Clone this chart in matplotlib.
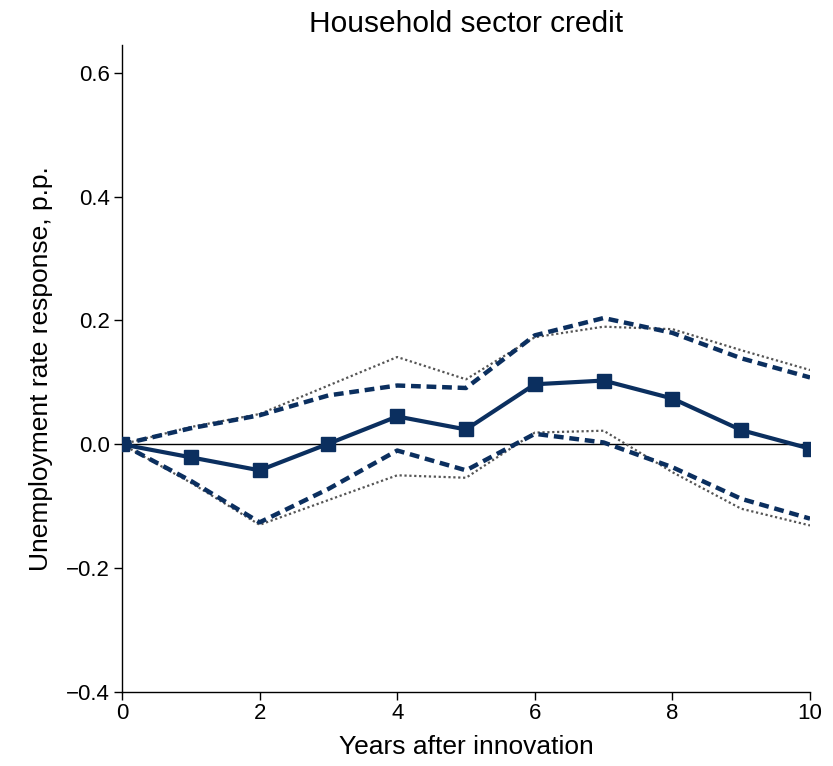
import numpy as np
import matplotlib
matplotlib.use("Agg")
import matplotlib.pyplot as plt

plt.rcParams['font.family'] = ['Liberation Sans', 'DejaVu Sans']

# --- DATA ---
years = np.arange(0, 11)
irf = [0.0, -0.021, -0.042, 0.001, 0.045, 0.024, 0.097, 0.103, 0.074, 0.023, -0.007]
band_hi = [0.0, 0.026, 0.047, 0.079, 0.095, 0.091, 0.176, 0.204, 0.180, 0.139, 0.108]
band_lo = [0.0, -0.059, -0.126, -0.072, -0.010, -0.042, 0.017, 0.003, -0.037, -0.088, -0.120]
band2_hi = [0.0, 0.028, 0.049, 0.095, 0.141, 0.105, 0.173, 0.190, 0.186, 0.152, 0.120]
band2_lo = [0.0, -0.062, -0.130, -0.090, -0.050, -0.054, 0.019, 0.022, -0.045, -0.104, -0.131]

navy = '#0b2f5f'
grey = '#555555'

fig = plt.figure(figsize=(8.33, 7.66), dpi=100)
ax = fig.add_axes([0.1465, 0.0966, 0.8259, 0.8447])

# zero line
ax.axhline(0, color='black', linewidth=1.0, zorder=1)

# outer (dotted) bands
ax.plot(years, band2_hi, color=grey, linestyle=(0, (1, 1.2)), linewidth=1.6, zorder=2)
ax.plot(years, band2_lo, color=grey, linestyle=(0, (1, 1.2)), linewidth=1.6, zorder=2)

# inner (dashed) bands
ax.plot(years, band_hi, color=navy, linestyle=(0, (2.2, 1.3)), linewidth=3.2, zorder=3)
ax.plot(years, band_lo, color=navy, linestyle=(0, (2.2, 1.3)), linewidth=3.2, zorder=3)

# point estimate
ax.plot(years, irf, color=navy, linewidth=3.0, marker='s', markersize=10.5, zorder=4)

ax.set_xlim(0, 10)
ax.set_ylim(-0.4, 0.645)
ax.set_xticks(np.arange(0, 11, 2))
ax.set_yticks([-0.4, -0.2, 0.0, 0.2, 0.4, 0.6])
ax.set_yticklabels(['\u22120.4', '\u22120.2', '0.0', '0.2', '0.4', '0.6'])
ax.spines['top'].set_visible(False)
ax.spines['right'].set_visible(False)
ax.spines['left'].set_linewidth(1.0)
ax.spines['bottom'].set_linewidth(1.0)
ax.tick_params(axis='both', direction='out', length=6, width=1.0, labelsize=16)
ax.tick_params(axis='x', pad=2)
ax.tick_params(axis='y', pad=3)

ax.set_title('Household sector credit', fontsize=21.5, pad=9)
ax.set_xlabel('Years after innovation', fontsize=19, labelpad=8)
ax.set_ylabel('Unemployment rate response, p.p.', fontsize=19, labelpad=9)

fig.savefig('out.png', dpi=100)
